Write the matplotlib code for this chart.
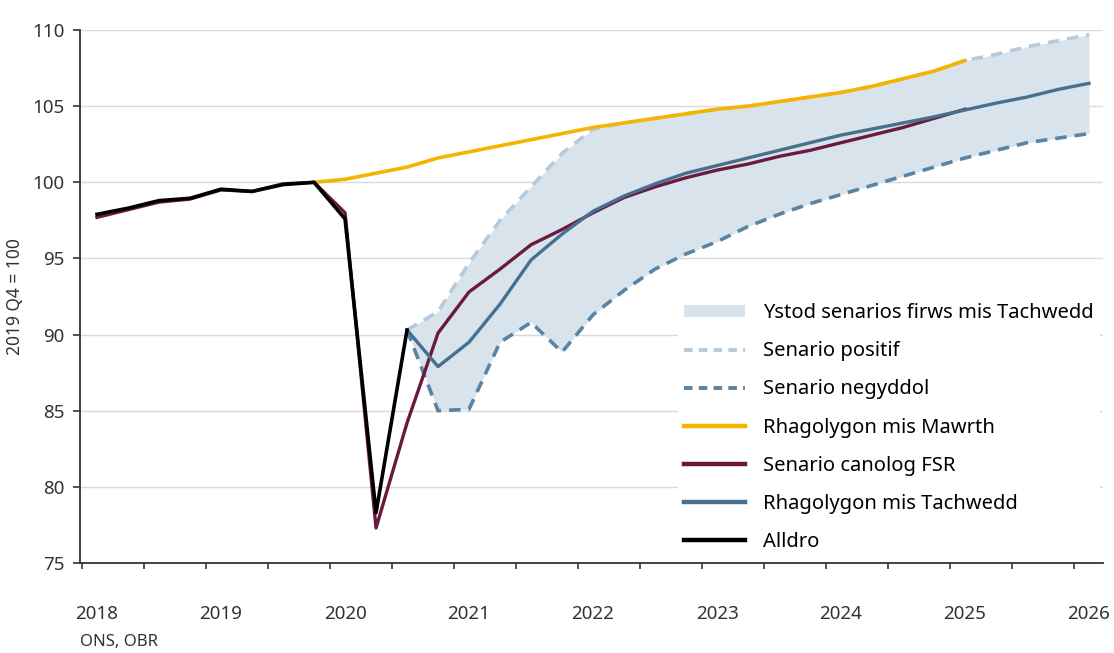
import numpy as np
import matplotlib.pyplot as plt
from matplotlib.patches import Patch
from matplotlib.lines import Line2D

plt.rcParams['font.family'] = ['Noto Sans', 'DejaVu Sans']

nan = np.nan

# quarterly, 2018 Q1 .. 2026 Q1
year_labels = ['2018', '2019', '2020', '2021', '2022', '2023', '2024', '2025', '2026']
n_quarters = 33

alldro = [97.9, 98.3, 98.8, 98.95, 99.55, 99.4, 99.85, 100.0, 97.6, 78.3, 90.3] + [nan] * 22

fsr = [97.7, 98.2, 98.7, 98.9, 99.5, 99.4, 99.9, 100.0, 98.0, 77.3, 84.2, 90.1,
       92.8, 94.3, 95.9, 96.9, 98.0, 99.0, 99.7, 100.3, 100.8, 101.2, 101.7,
       102.1, 102.6, 103.1, 103.6, 104.2, 104.8] + [nan] * 4

mawrth = [nan] * 7 + [100.0, 100.2, 100.6, 101.0, 101.6, 102.0, 102.4, 102.8,
                      103.2, 103.6, 103.9, 104.2, 104.5, 104.8, 105.0, 105.3,
                      105.6, 105.9, 106.3, 106.8, 107.3, 108.0] + [nan] * 4

tachwedd = [nan] * 10 + [90.3, 87.9, 89.5, 92.0, 94.9, 96.6, 98.1, 99.1, 99.9,
                         100.6, 101.1, 101.6, 102.1, 102.6, 103.1, 103.5, 103.9,
                         104.3, 104.75, 105.2, 105.6, 106.1, 106.5]

positif = [nan] * 10 + [90.3, 91.5, 94.7, 97.5, 99.7, 101.9, 103.5, 103.9, 104.2,
                        104.5, 104.8, 105.0, 105.3, 105.6, 105.9, 106.3, 106.8,
                        107.3, 108.0, 108.4, 108.9, 109.3, 109.7]

negyddol = [nan] * 10 + [90.3, 85.0, 85.1, 89.5, 90.8, 88.85, 91.3, 92.9, 94.3,
                         95.3, 96.1, 97.1, 97.9, 98.6, 99.2, 99.8, 100.4, 101.0,
                         101.6, 102.1, 102.6, 102.9, 103.2]

c_fill = '#d9e3ec'
c_pos = '#b7cadb'
c_neg = '#5a84a3'
c_mawrth = '#f5b400'
c_fsr = '#6b1a3e'
c_tach = '#47708f'

x = np.arange(n_quarters)

fig = plt.figure(figsize=(11.14, 6.53), dpi=100)
ax = fig.add_axes([0.0718, 0.1378, 0.9183, 0.8162])

ax.set_ylim(75, 110)
ax.set_xlim(-0.55, 32.45)
ax.set_yticks([75, 80, 85, 90, 95, 100, 105, 110])
ax.grid(axis='y', color='#dadada', lw=1.0, zorder=0)
ax.set_axisbelow(True)

ax.fill_between(x, negyddol, positif, color=c_fill, lw=0, zorder=1)
ax.plot(x, positif, color=c_pos, lw=2.6, dashes=(3.2, 2.2), zorder=2)
ax.plot(x, negyddol, color=c_neg, lw=2.6, dashes=(3.2, 2.2), zorder=2)
ax.plot(x, mawrth, color=c_mawrth, lw=2.6, zorder=3)
ax.plot(x, fsr, color=c_fsr, lw=2.4, zorder=4)
ax.plot(x, tachwedd, color=c_tach, lw=2.4, zorder=5)
ax.plot(x, alldro, color='black', lw=2.6, zorder=6)

for s in ['top', 'right']:
    ax.spines[s].set_visible(False)
for s in ['left', 'bottom']:
    ax.spines[s].set_color('#333333')
    ax.spines[s].set_linewidth(1.3)

ax.set_xticks(np.arange(0, n_quarters, 4))
ax.set_xticklabels(year_labels)
ax.set_xticks(np.arange(-0.5, 32, 2), minor=True)
ax.tick_params(axis='x', which='major', length=0, pad=30, labelsize=13.5, colors='#333333')
ax.tick_params(axis='x', which='minor', length=4, width=1.2, color='#333333')
ax.tick_params(axis='y', length=5, width=1.2, pad=6, labelsize=13.5, colors='#333333')

ax.set_ylabel('2019 Q4 = 100', fontsize=12.5, color='#333333', labelpad=6)
fig.text(0.072, 0.004, 'ONS, OBR', fontsize=12, color='#333333', ha='left', va='bottom')

handles = [
    Patch(facecolor=c_fill, edgecolor='none', label='Ystod senarios firws mis Tachwedd'),
    Line2D([], [], color=c_pos, lw=2.8, dashes=(2.2, 1.6), label='Senario positif'),
    Line2D([], [], color=c_neg, lw=2.8, dashes=(2.2, 1.6), label='Senario negyddol'),
    Line2D([], [], color=c_mawrth, lw=3.2, label='Rhagolygon mis Mawrth'),
    Line2D([], [], color=c_fsr, lw=3.2, label='Senario canolog FSR'),
    Line2D([], [], color=c_tach, lw=3.2, label='Rhagolygon mis Tachwedd'),
    Line2D([], [], color='black', lw=3.2, label='Alldro'),
]
leg = ax.legend(handles=handles, loc='upper left', bbox_to_anchor=(0.609, 0.545),
                bbox_transform=fig.transFigure, fontsize=14.5, frameon=True,
                facecolor='white', edgecolor='none', framealpha=1,
                handlelength=3.0, handleheight=0.6, handletextpad=0.9,
                labelspacing=0.9, borderpad=0.3, borderaxespad=0)
leg.set_zorder(10)

fig.savefig('out.png', dpi=100)
